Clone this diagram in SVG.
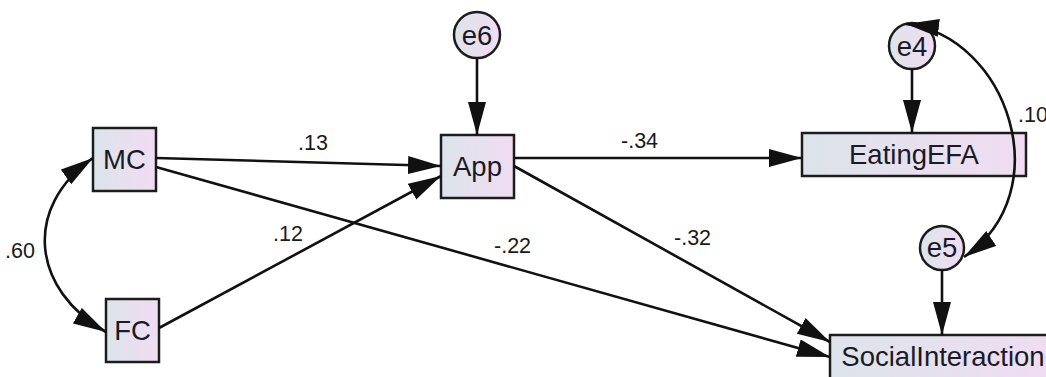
<svg xmlns="http://www.w3.org/2000/svg" width="1046" height="377" viewBox="0 0 1046 377">
  <defs>
    <linearGradient id="boxFill" x1="0" y1="0" x2="1" y2="0">
      <stop offset="0" stop-color="#dce4ea"/>
      <stop offset="1" stop-color="#f1dcf2"/>
    </linearGradient>
    <marker id="head" markerUnits="userSpaceOnUse" markerWidth="34" markerHeight="19" refX="33" refY="9" orient="auto-start-reverse">
      <path d="M0,0 L33,9 L0,18 z" fill="#111"/>
    </marker>
    <style>
      .box { fill: url(#boxFill); stroke: #1c1c1c; stroke-width: 2.5; }
      .err { fill: url(#boxFill); stroke: #1c1c1c; stroke-width: 2.5; }
      .lbl { font-family: "Liberation Sans", Arial, sans-serif; font-size: 27.5px; fill: #1a1a26; text-anchor: middle; }
      .coef { font-family: "Liberation Sans", Arial, sans-serif; font-size: 21.5px; fill: #1a1a1a; }
      .edge { fill: none; stroke: #111; stroke-width: 2.6; }
      .one { marker-end: url(#head); }
      .two { marker-start: url(#head); marker-end: url(#head); }
    </style>
  </defs>
  <rect width="1046" height="377" fill="#ffffff"/>

  <g id="MC">
    <rect class="box" x="93" y="128" width="63" height="63"/>
    <text class="lbl" x="124.5" y="169">MC</text>
  </g>
  <g id="FC">
    <rect class="box" x="106" y="299" width="53" height="63"/>
    <text class="lbl" x="132.5" y="340">FC</text>
  </g>
  <g id="App">
    <rect class="box" x="441" y="135" width="73" height="63"/>
    <text class="lbl" x="477.5" y="176">App</text>
  </g>
  <g id="EatingEFA">
    <rect class="box" x="802" y="133" width="224" height="43"/>
    <text class="lbl" x="914" y="164">EatingEFA</text>
  </g>
  <g id="SocialInteraction">
    <rect class="box" x="830" y="335" width="226" height="46"/>
    <text class="lbl" x="943" y="366">SocialInteraction</text>
  </g>
  <g id="e6">
    <circle class="err" cx="477" cy="35" r="23"/>
    <text class="lbl" x="477" y="45">e6</text>
  </g>
  <g id="e4">
    <circle class="err" cx="912" cy="46" r="23"/>
    <text class="lbl" x="912" y="56">e4</text>
  </g>
  <g id="e5">
    <circle class="err" cx="942" cy="248" r="22"/>
    <text class="lbl" x="942" y="257">e5</text>
  </g>

  <!-- paths and covariances, drawn over the nodes -->
  <g id="connectors">
    <path class="edge one" d="M156,158 L441,166"/>
    <path class="edge one" d="M159,328 L441,176"/>
    <path class="edge one" d="M156,167 L830,357"/>
    <path class="edge one" d="M514,166 L830,342"/>
    <path class="edge one" d="M514,158 L802,158"/>
    <path class="edge one" d="M477,58 L477,135"/>
    <path class="edge one" d="M912,69 L912,133"/>
    <path class="edge one" d="M942,270 L942,335"/>
    <path class="edge two" d="M93,158 C22,208 32,290 106,332"/>
    <path class="edge two" d="M906,24 C1008,36 1060,192 964,257"/>
  </g>

  <!-- coefficients -->
  <g id="coefficients">
    <text class="coef" x="298" y="150">.13</text>
    <text class="coef" x="273" y="241">.12</text>
    <text class="coef" x="621" y="148">-.34</text>
    <text class="coef" x="674" y="245">-.32</text>
    <text class="coef" x="494" y="253">-.22</text>
    <text class="coef" x="5" y="258">.60</text>
    <text class="coef" x="1018" y="122">.10</text>
  </g>
</svg>
